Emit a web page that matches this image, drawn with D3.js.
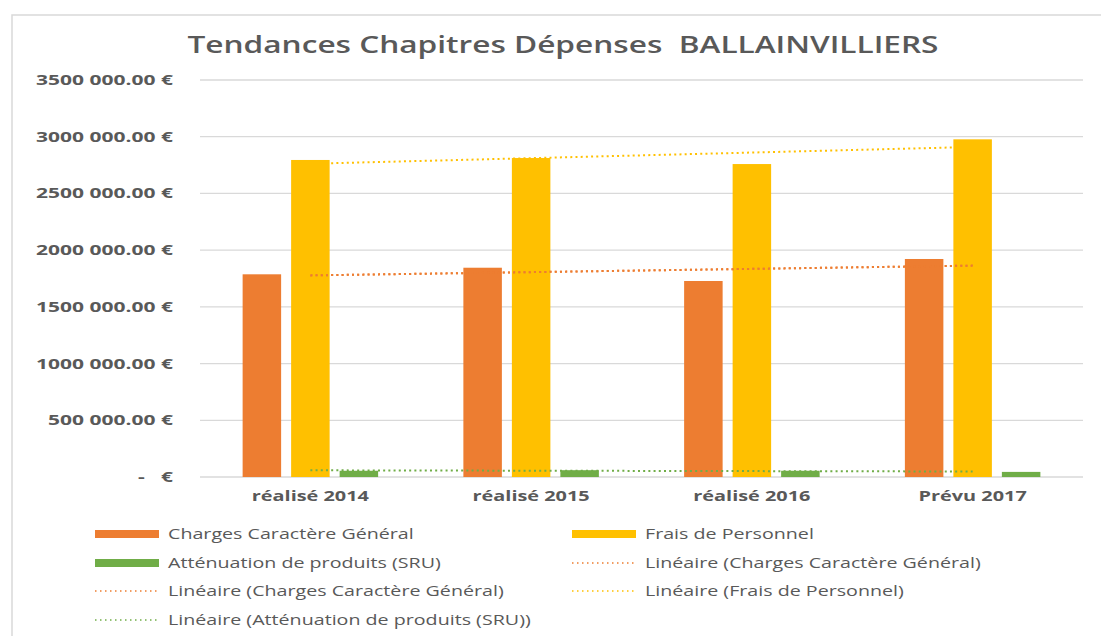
<!DOCTYPE html>
<html>
<head>
<meta charset="utf-8">
<script src="https://cdn.jsdelivr.net/npm/d3@7"></script>
<style>
  html, body { margin: 0; padding: 0; background: #fff; }
  svg { display: block; font-family: "Open Sans", "DejaVu Sans", sans-serif; }
</style>
</head>
<body>
<svg id="chart" width="1101" height="636"></svg>
<script>
const categories = ["réalisé 2014", "réalisé 2015", "réalisé 2016", "Prévu 2017"];
const seriesNames = ["Charges Caractère Général", "Frais de Personnel", "Atténuation de produits (SRU)"];
const chargesGeneral = [1787000, 1845000, 1728000, 1922000];
const fraisPersonnel = [2795000, 2812000, 2759000, 2977000];
const attenuation = [55000, 60000, 55000, 45000];
const yTickValues = [0, 500000, 1000000, 1500000, 2000000, 2500000, 3000000, 3500000];
const yTickLabels = ["-   €", "500 000.00 €", "1000 000.00 €", "1500 000.00 €", "2000 000.00 €", "2500 000.00 €", "3000 000.00 €", "3500 000.00 €"];
const legendLabels = [
  "Charges Caractère Général", "Frais de Personnel",
  "Atténuation de produits (SRU)", "Linéaire (Charges Caractère Général)",
  "Linéaire (Charges Caractère Général)", "Linéaire (Frais de Personnel)",
  "Linéaire (Atténuation de produits (SRU))"
];
const title = "Tendances Chapitres Dépenses  BALLAINVILLIERS";

const colors = ["#ED7D31", "#FFC000", "#70AD47"];
const seriesData = [chargesGeneral, fraisPersonnel, attenuation];
const textColor = "#595959";

const svg = d3.select("#chart");

// stretch text horizontally (the reference image is widened)
function stretch(sel, factor) {
  sel.each(function() {
    const w = this.getComputedTextLength();
    d3.select(this).attr("textLength", w * factor).attr("lengthAdjust", "spacingAndGlyphs");
  });
}

// frame
svg.append("rect").attr("x", 12).attr("y", 15).attr("width", 1110).attr("height", 640)
  .attr("fill", "none").attr("stroke", "#D9D9D9").attr("stroke-width", 1.5);

const plot = {left: 200, right: 1083, top: 80, bottom: 477};

const x = d3.scaleBand().domain(categories).range([plot.left, plot.right]).paddingInner(0).paddingOuter(0);
const y = d3.scaleLinear().domain([0, 3500000]).range([plot.bottom, plot.top]);

// gridlines
svg.append("g").selectAll("line").data(yTickValues).join("line")
  .attr("x1", plot.left).attr("x2", plot.right)
  .attr("y1", d => y(d)).attr("y2", d => y(d))
  .attr("stroke", "#D9D9D9").attr("stroke-width", 1.3);

// y axis labels
const yAxis = d3.axisLeft(y).tickValues(yTickValues)
  .tickFormat((d, i) => yTickLabels[i]).tickSize(0).tickPadding(0);
const yg = svg.append("g").attr("transform", `translate(173,0)`).call(yAxis);
yg.select(".domain").remove();
yg.selectAll("text").attr("fill", textColor).attr("font-size", 14).attr("font-weight", "bold")
  .attr("font-family", "'Open Sans', sans-serif")
  .style("white-space", "pre");
stretch(yg.selectAll("text"), 1.5);

// bars
const barW = 38.5, barGap = 10;
const inner = d3.scaleBand().domain(seriesNames).range([0, 3 * barW + 2 * barGap]).paddingInner(barGap / (barW + barGap)).paddingOuter(0);
const groupW = 3 * barW + 2 * barGap;

seriesData.forEach((vals, si) => {
  svg.append("g").selectAll("rect").data(vals).join("rect")
    .attr("x", (d, i) => x(categories[i]) + x.bandwidth() / 2 - groupW / 2 + inner(seriesNames[si]))
    .attr("width", inner.bandwidth())
    .attr("y", d => y(d))
    .attr("height", d => y(0) - y(d))
    .attr("fill", colors[si]);
});

// linear trendlines
function linreg(vals) {
  const xs = vals.map((_, i) => i + 1);
  const mx = d3.mean(xs), my = d3.mean(vals);
  let num = 0, den = 0;
  xs.forEach((xv, i) => { num += (xv - mx) * (vals[i] - my); den += (xv - mx) ** 2; });
  const b = num / den, a = my - b * mx;
  return xs.map(xv => a + b * xv);
}
const trendSeries = [0, 0, 1, 2];
trendSeries.forEach(si => {
  const fit = linreg(seriesData[si]);
  const line = d3.line().x((d, i) => x(categories[i]) + x.bandwidth() / 2).y(d => y(d));
  svg.append("path").attr("d", line(fit))
    .attr("fill", "none").attr("stroke", colors[si]).attr("stroke-width", 2)
    .attr("stroke-dasharray", "2,3.2");
});

// x axis labels
const xAxis = d3.axisBottom(x).tickSize(0).tickPadding(0);
const xg = svg.append("g").attr("transform", `translate(0,${plot.bottom + 14})`).call(xAxis);
xg.select(".domain").remove();
xg.selectAll("text").attr("fill", textColor).attr("font-size", 14.5).attr("font-weight", "bold")
  .attr("font-family", "'Open Sans', sans-serif");
stretch(xg.selectAll("text"), 1.37);

// title
const t = svg.append("text").attr("x", 563).attr("y", 53).attr("text-anchor", "middle")
  .attr("fill", textColor).attr("font-size", 23).attr("font-weight", 600)
  .style("white-space", "pre")
  .text(title);
t.attr("textLength", 751).attr("lengthAdjust", "spacingAndGlyphs");

// legend
const legendItems = [
  {label: legendLabels[0], color: colors[0], type: "bar"},
  {label: legendLabels[1], color: colors[1], type: "bar"},
  {label: legendLabels[2], color: colors[2], type: "bar"},
  {label: legendLabels[3], color: colors[0], type: "line"},
  {label: legendLabels[4], color: colors[0], type: "line"},
  {label: legendLabels[5], color: colors[1], type: "line"},
  {label: legendLabels[6], color: colors[2], type: "line"}
];
const colX = [95, 572];
const rowY = [534, 563, 591, 620];
const lg = svg.append("g");
legendItems.forEach((it, i) => {
  const cx = colX[i % 2], cy = rowY[Math.floor(i / 2)];
  if (it.type === "bar") {
    lg.append("rect").attr("x", cx).attr("y", cy - 4).attr("width", 64).attr("height", 8).attr("fill", it.color);
  } else {
    lg.append("line").attr("x1", cx).attr("x2", cx + 64).attr("y1", cy).attr("y2", cy)
      .attr("stroke", it.color).attr("stroke-width", 1.5).attr("stroke-dasharray", "1.5,3.5");
  }
  lg.append("text").attr("x", cx + 73).attr("y", cy).attr("dy", "0.35em")
    .attr("fill", textColor).attr("font-size", 15).text(it.label);
});
stretch(lg.selectAll("text"), 1.31);
</script>
</body>
</html>
